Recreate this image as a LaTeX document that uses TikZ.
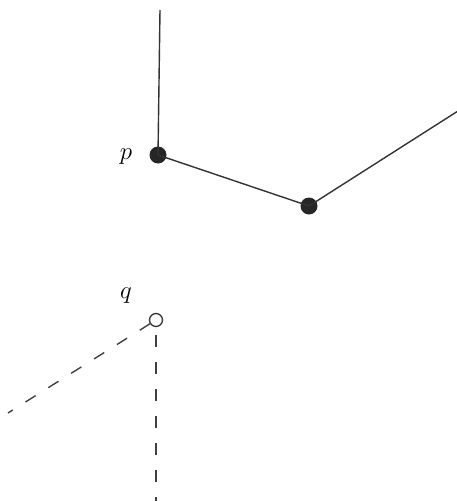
\documentclass[tikz,border=0pt]{standalone}
\begin{document}
\begin{tikzpicture}[x=1pt,y=-1pt,
  edge/.style={line width=1.4pt,draw=black!80},
  dashedge/.style={line width=1.4pt,draw=black!75,dash pattern=on 12pt off 15pt},
  fulldot/.style={circle,fill=black!85,inner sep=0pt,minimum size=17pt},
  opendot/.style={circle,draw=black!80,line width=1.3pt,fill=white,inner sep=0pt,minimum size=13pt},
  lbl/.style={font=\fontsize{28}{28}\selectfont}]
\useasboundingbox (0,0) rectangle (456,501);
\coordinate (top) at (160,10);
\coordinate (tr) at (458,111);
\coordinate (ql) at (8,413);
\coordinate (qb) at (156,503);
\node[fulldot] (p) at (158,155) {};
\node[fulldot] (r) at (309,206) {};
\node[opendot] (q) at (156,320) {};
\node[lbl] (plab) at (126,157) {$p$};
\node[lbl] (qlab) at (126,296) {$q$};
\draw[edge] (top) -- (p.center);
\draw[edge] (p.center) -- (r.center);
\draw[edge] (r.center) -- (tr);
\draw[dashedge] (q) -- (ql);
\draw[dashedge,dash phase=-8pt] (q) -- (qb);
\end{tikzpicture}
\end{document}
